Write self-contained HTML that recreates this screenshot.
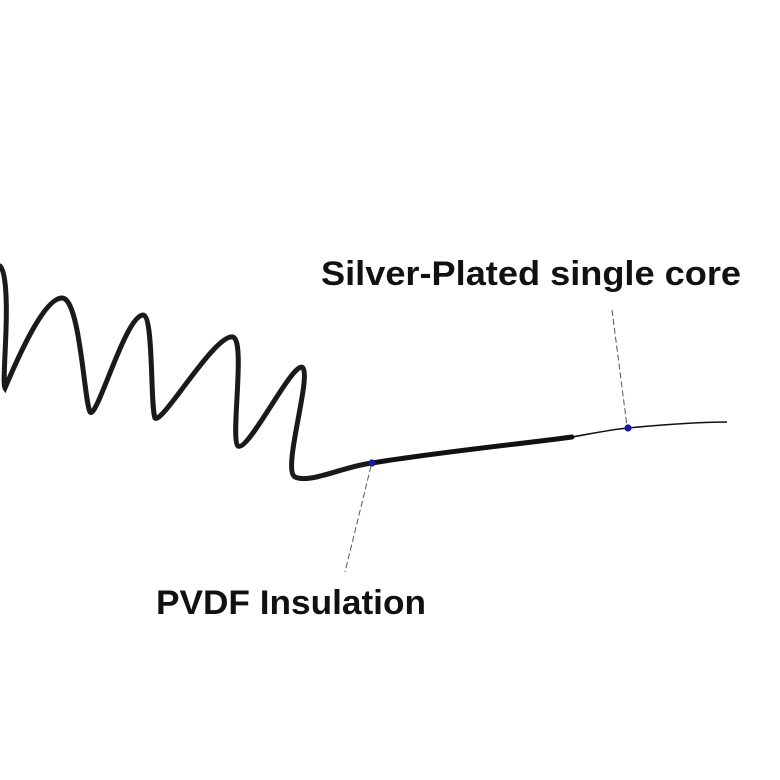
<!DOCTYPE html>
<html><head><style>
html,body{margin:0;padding:0;background:#fff;width:780px;height:780px;overflow:hidden}
svg{display:block}
</style></head><body>
<svg width="780" height="780" viewBox="0 0 780 780" xmlns="http://www.w3.org/2000/svg">
<path d="M0,266 C6,272 7,300 6,330 C5,360 3,385 5,388 C12,372 42,298 62,298 C80,298 84,400 90,412 C97,420 125,316 143,315 C154,316 150,405 155,418 C162,425 215,333 233,337 C246,341 230,440 238,446 C249,452 294,358 303,368 C311,380 282,470 295,477 C310,484 345,466 372,463" fill="none" stroke="#1a1a1a" stroke-width="5" stroke-linecap="round"/>
<path d="M372,463 C440,452 520,444 572,437" fill="none" stroke="#111" stroke-width="5" stroke-linecap="round"/>
<path d="M572,437 C600,432 615,429 628,428 C670,424 700,422 727,422" fill="none" stroke="#111" stroke-width="1.6"/>
<line x1="612" y1="310" x2="627" y2="426" stroke="#555" stroke-width="1" stroke-dasharray="6,3"/>
<line x1="371" y1="466" x2="345" y2="572" stroke="#555" stroke-width="1" stroke-dasharray="6,3"/>
<circle cx="372" cy="463" r="3.6" fill="#1a1aa0"/>
<circle cx="628" cy="428" r="3.6" fill="#1a1aa0"/>
<text x="321" y="285" font-family="Liberation Sans, sans-serif" font-size="34" font-weight="bold" fill="#111" textLength="420" lengthAdjust="spacingAndGlyphs">Silver-Plated single core</text>
<text x="156" y="614" font-family="Liberation Sans, sans-serif" font-size="34" font-weight="bold" fill="#111" textLength="270" lengthAdjust="spacingAndGlyphs">PVDF Insulation</text>
</svg>
</body></html>
